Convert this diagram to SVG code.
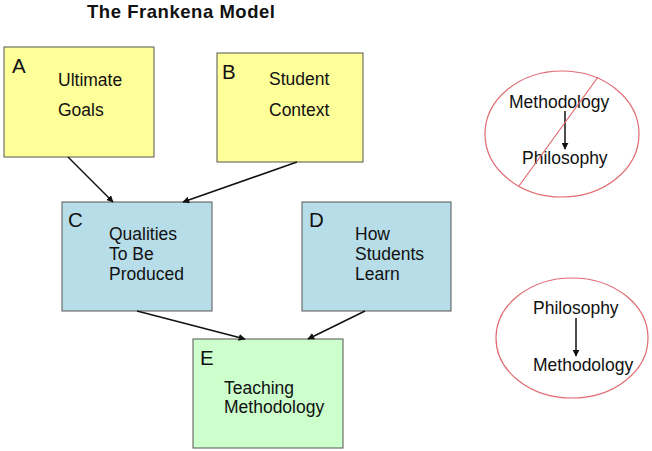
<svg xmlns="http://www.w3.org/2000/svg" width="652" height="451" viewBox="0 0 652 451">
<defs>
<style>
text{font-family:"Liberation Sans",Arial,sans-serif;font-size:17.5px;fill:#111}
.title{font-weight:bold;font-size:18.5px}
.lbl{font-size:20.5px}
.box{stroke:#555;stroke-width:1}
.conn{stroke:#111;stroke-width:1.5;fill:none;marker-end:url(#ah)}
.ell{fill:none;stroke:#E06A72;stroke-width:1.2}
</style>
<marker id="ah" viewBox="0 0 10 10" refX="9" refY="5" markerWidth="7" markerHeight="7" markerUnits="userSpaceOnUse" orient="auto">
<path d="M0,0 L10,5 L0,10 z" fill="#111"/>
</marker>
</defs>
<rect width="652" height="451" fill="#fff"/>
<text class="title" x="87" y="18" textLength="188">The Frankena Model</text>
<g id="nodeA">
<rect class="box" x="4" y="47" width="150" height="110" fill="#FFFF99"/>
<text class="lbl" x="12" y="73">A</text>
<text x="58" y="86">Ultimate</text>
<text x="58" y="116">Goals</text>
</g>
<g id="nodeB">
<rect class="box" x="217" y="53" width="146" height="109" fill="#FFFF99"/>
<text class="lbl" x="222" y="79">B</text>
<text x="269" y="85">Student</text>
<text x="269" y="116">Context</text>
</g>
<g id="nodeC">
<rect class="box" x="62" y="202" width="150" height="109" fill="#B7DDE8"/>
<text class="lbl" x="68" y="227">C</text>
<text x="109" y="240">Qualities</text>
<text x="109" y="260">To Be</text>
<text x="109" y="280">Produced</text>
</g>
<g id="nodeD">
<rect class="box" x="302" y="202" width="149" height="109" fill="#B7DDE8"/>
<text class="lbl" x="309" y="227">D</text>
<text x="355" y="240">How</text>
<text x="355" y="260">Students</text>
<text x="355" y="280">Learn</text>
</g>
<g id="nodeE">
<rect class="box" x="193" y="339" width="150" height="109" fill="#CCFFCC"/>
<text class="lbl" x="200" y="365">E</text>
<text x="224" y="394">Teaching</text>
<text x="224" y="413">Methodology</text>
</g>
<g id="connectors">
<line class="conn" x1="68" y1="157" x2="113" y2="202"/>
<line class="conn" x1="297" y1="162" x2="183" y2="202"/>
<line class="conn" x1="137" y1="311" x2="245" y2="339"/>
<line class="conn" x1="365" y1="311" x2="308" y2="339"/>
</g>
<g id="ellipseWrong">
<ellipse class="ell" cx="562" cy="134" rx="77" ry="63"/>
<text x="509" y="108">Methodology</text>
<line class="conn" x1="565" y1="111" x2="565" y2="149"/>
<text x="522" y="164">Philosophy</text>
<line x1="598" y1="77" x2="519" y2="186" stroke="#E06A72" stroke-width="1.2"/>
</g>
<g id="ellipseRight">
<ellipse class="ell" cx="572" cy="338" rx="76" ry="60"/>
<text x="533" y="314">Philosophy</text>
<line class="conn" x1="576" y1="318" x2="576" y2="356"/>
<text x="533" y="371">Methodology</text>
</g>
</svg>
